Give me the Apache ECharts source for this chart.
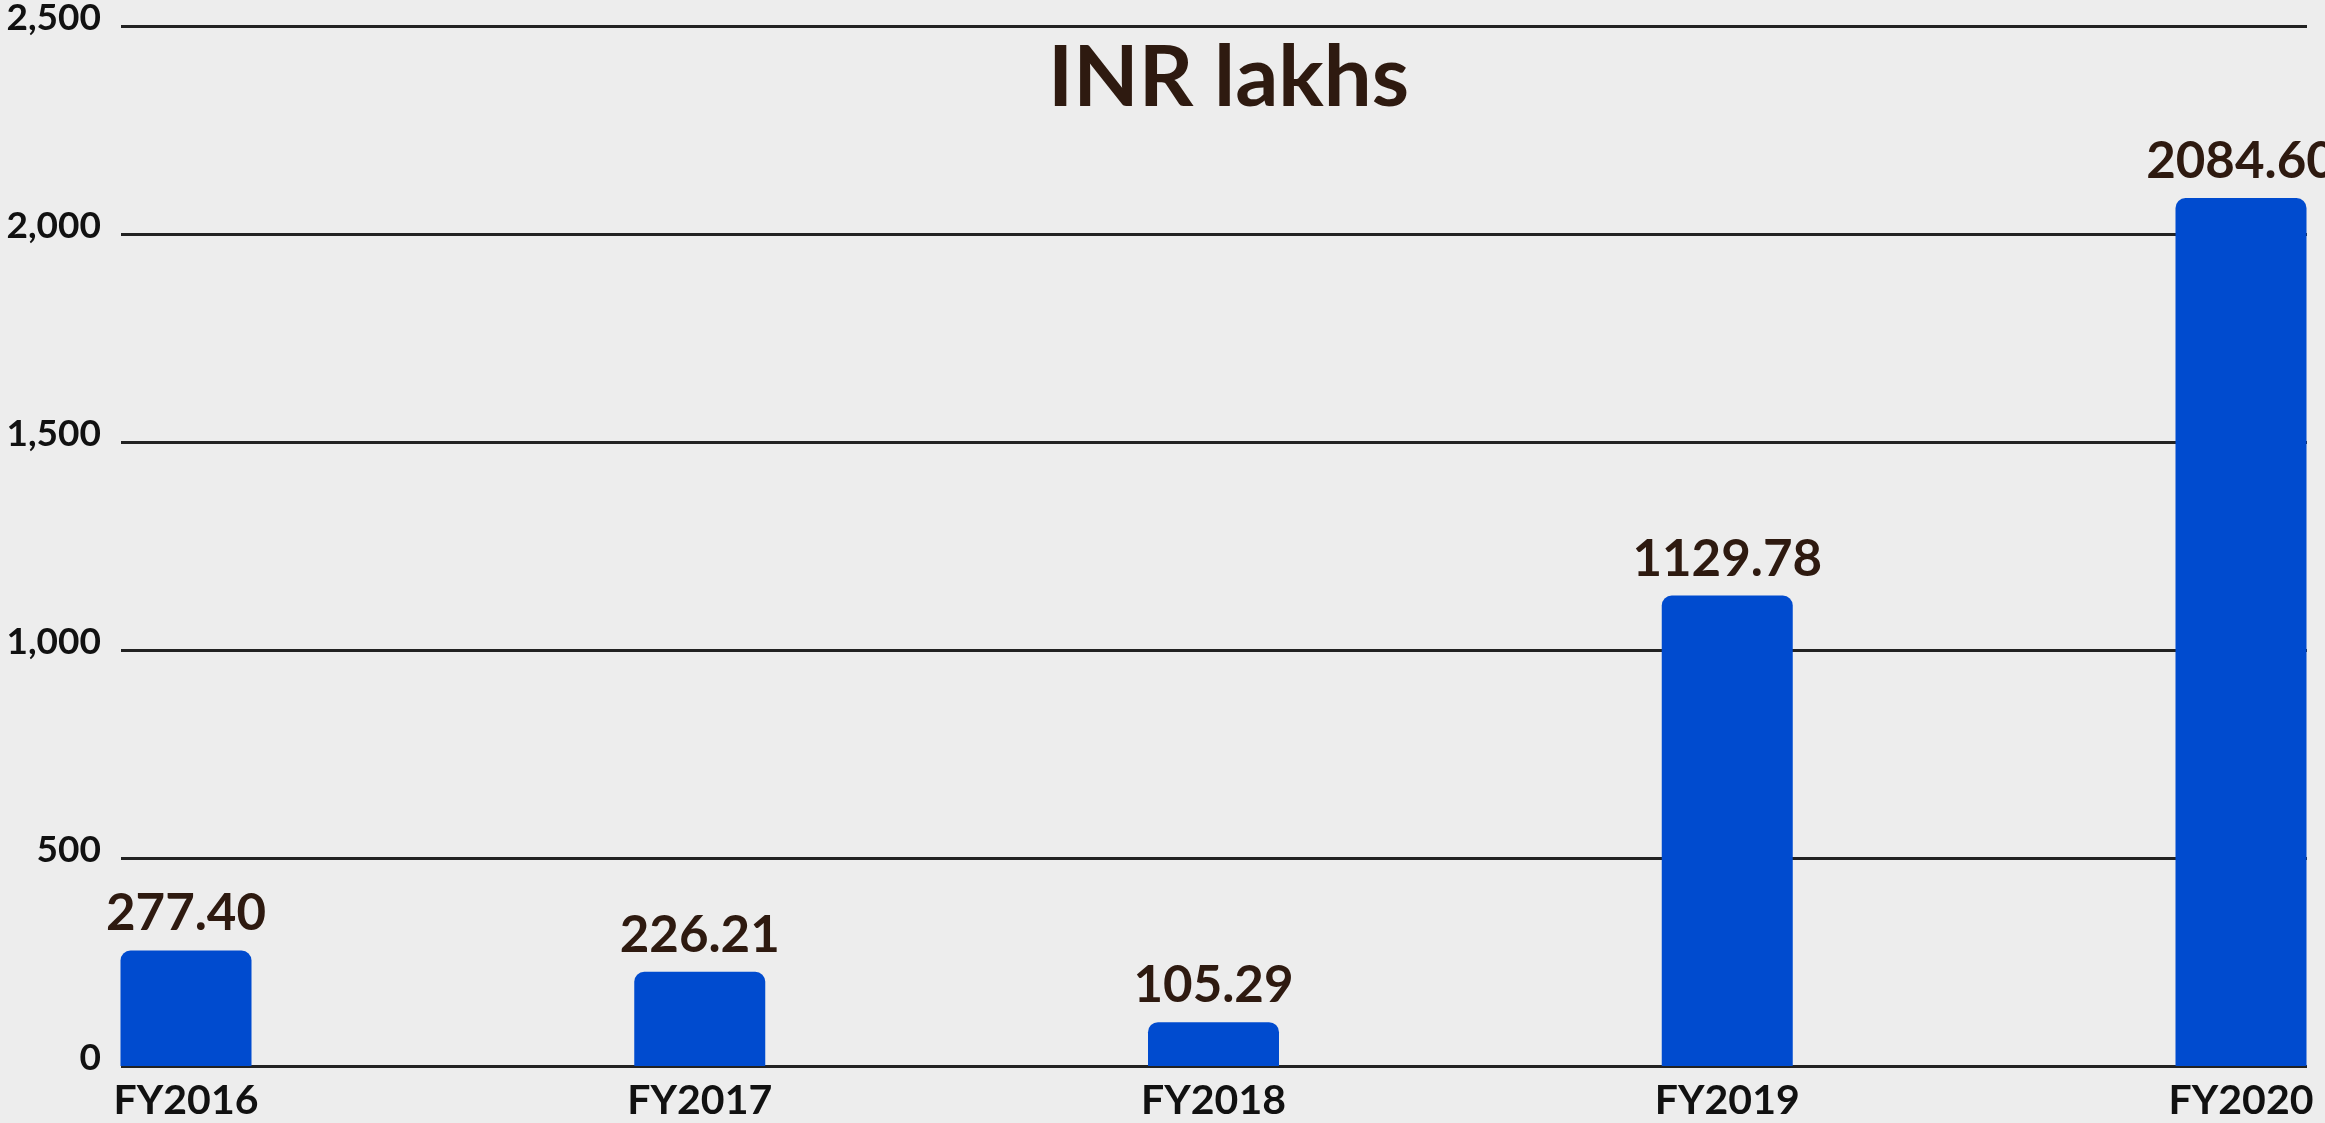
<!DOCTYPE html>
<html>
<head>
<meta charset="utf-8">
<title>INR lakhs</title>
<script src="https://cdn.jsdelivr.net/npm/echarts@6/dist/echarts.min.js"></script>
<style>
  html, body { margin: 0; padding: 0; background: #ededed; }
  #chart { width: 2325px; height: 1123px; }
</style>
</head>
<body>
<div id="chart"></div>
<script>
const years = ['FY2016', 'FY2017', 'FY2018', 'FY2019', 'FY2020'];
const revenue = [277.40, 226.21, 105.29, 1129.78, 2084.60];
const yMin = 0;
const yMax = 2500;
const yStep = 500;

const font = 'Lato, "Noto Sans", sans-serif';
const brown = '#2e1a10';

const chart = echarts.init(document.getElementById('chart'));

chart.setOption({
  backgroundColor: '#ededed',
  animation: false,
  title: {
    text: 'INR lakhs',
    left: 1043,
    top: 31,
    textStyle: { fontFamily: font, fontSize: 85, fontWeight: 700, color: brown }
  },
  // grid 0 holds the full-width gridlines and y labels, grid 1 holds the bars
  grid: [
    { left: 121, right: 18, top: 25, bottom: 57 },
    { left: 186, right: 84, top: 25, bottom: 57 }
  ],
  xAxis: [
    { gridIndex: 0, type: 'value', show: false, min: 0, max: 1 },
    {
      gridIndex: 1,
      type: 'category',
      data: years,
      boundaryGap: false,
      axisLine: { show: false },
      axisTick: { show: false },
      axisLabel: {
        margin: 14,
        fontFamily: font,
        fontSize: 41,
        fontWeight: 700,
        color: '#111'
      }
    }
  ],
  yAxis: [
    {
      gridIndex: 0,
      type: 'value',
      min: yMin,
      max: yMax,
      interval: yStep,
      axisLine: { show: false },
      axisTick: { show: false },
      splitLine: { lineStyle: { color: '#222', width: 3 } },
      axisLabel: {
        margin: 20,
        fontFamily: font,
        fontSize: 37,
        fontWeight: 700,
        color: '#111',
        verticalAlign: 'bottom',
        lineHeight: 16,
        formatter: v => v.toLocaleString('en-US')
      }
    },
    {
      gridIndex: 1,
      type: 'value',
      min: yMin,
      max: yMax,
      interval: yStep,
      show: false,
      splitLine: { show: false }
    }
  ],
  series: [
    {
      type: 'bar',
      xAxisIndex: 1,
      yAxisIndex: 1,
      data: revenue,
      barWidth: 131,
      itemStyle: { color: '#004bcf', borderRadius: [10, 10, 0, 0] },
      label: {
        show: true,
        position: 'top',
        distance: 11,
        fontFamily: font,
        fontSize: 51,
        fontWeight: 700,
        color: brown,
        formatter: p => p.value.toFixed(2)
      }
    }
  ]
});

window.addEventListener('resize', () => chart.resize());
</script>
</body>
</html>
